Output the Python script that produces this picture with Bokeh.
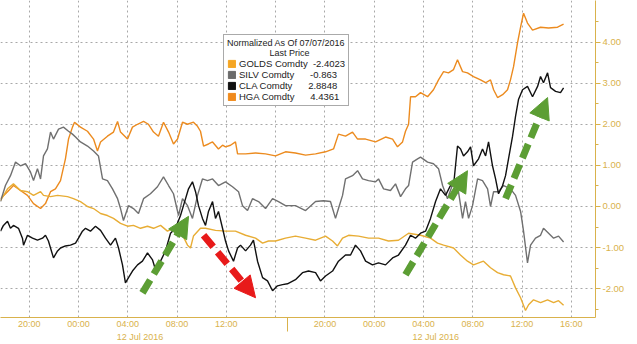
from bokeh.plotting import figure
from bokeh.models import (FixedTicker, LinearAxis, Label, Arrow, NormalHead, Legend,
                          LegendItem, NumeralTickFormatter, Range1d)
from bokeh.embed import file_html
from bokeh.resources import INLINE

# ---- data: hours since 00:00 of the first full day, normalized last price ----
HGA = [(-6.33,0.19),(-5.76,0.36),(-5.28,0.51),(-4.71,0.39),(-4.14,0.27),(-3.65,0.07),(-3.08,-0.05),
       (-2.68,0.07),(-2.27,0.36),(-1.87,0.43),(-1.46,0.63),(-1.06,1.16),(-0.81,1.64),(-0.49,1.93),
       (-0.32,2.05),(0.16,1.93),(0.73,1.83),(1.22,1.64),(1.54,1.35),(1.79,1.57),(2.35,1.71),(2.84,1.81),
       (3.17,2.07),(3.41,1.81),(3.98,1.64),(4.38,1.93),(4.79,2.0),(5.28,2.07),(5.68,2.0),(6.09,1.81),
       (6.49,1.71),(6.90,2.05),(7.31,1.81),(7.71,1.52),(8.04,1.64),(8.44,2.05),(8.85,2.0),(9.33,2.05),
       (9.66,1.95),(9.90,1.83),(10.15,1.47),(10.55,1.52),(10.88,1.57),(11.36,1.40),(11.69,1.49),
       (11.93,1.45),(12.34,1.49),(12.74,1.57),(12.91,1.28),(13.56,1.28),(14.37,1.30),(15.18,1.28),
       (15.99,1.23),(16.80,1.33),(17.61,1.30),(18.43,1.25),(19.24,1.28),(20.05,1.33),(20.70,1.40),
       (21.10,1.76),(21.67,1.71),(22.24,1.81),(22.65,1.64),(23.30,1.64),(24.11,1.57),(24.92,1.69),
       (25.49,1.64),(25.89,1.45),(26.30,1.57),(26.54,1.83),(26.79,2.0),(26.95,2.67),(27.35,2.67),
       (27.76,2.77),(28.33,2.67),(28.81,2.84),(29.22,3.08),(29.63,3.28),(30.03,3.25),(30.44,3.33),
       (30.76,3.57),(31.17,3.28),(31.57,3.25),(32.06,3.16),(32.63,3.08),(33.04,3.01),(33.44,3.08),
       (33.69,2.84),(34.01,2.65),(34.42,2.72),(34.82,2.84),(35.06,3.08),(35.31,3.40),(35.63,3.98),
       (35.88,4.36),(36.12,4.70),(36.44,4.46),(36.85,4.29),(37.50,4.36),(38.15,4.34),(38.88,4.36),
       (39.37,4.4361)]

GOLDS = [(-6.33,0.14),(-5.76,0.43),(-5.28,0.55),(-4.71,0.39),(-4.14,0.36),(-3.65,0.27),(-3.08,0.36),
         (-2.84,0.27),(-2.27,0.24),(-1.70,0.27),(-0.89,0.24),(-0.41,0.19),(0.16,0.12),(0.73,0.0),
         (1.22,-0.05),(1.79,-0.17),(2.35,-0.22),(2.84,-0.29),(3.41,-0.41),(3.98,-0.48),(4.46,-0.46),
         (5.03,-0.53),(5.60,-0.48),(6.09,-0.53),(6.66,-0.46),(7.22,-0.60),(7.71,-0.53),(8.28,-0.60),
         (8.85,-0.94),(9.09,-1.01),(9.33,-0.72),(9.90,-0.53),(10.31,-0.53),(11.12,-0.58),(11.93,-0.60),
         (12.74,-0.60),(13.56,-0.70),(14.37,-0.77),(14.94,-0.89),(15.42,-0.84),(15.99,-0.84),
         (16.80,-0.77),(17.61,-0.72),(18.43,-0.77),(19.24,-0.82),(20.05,-0.72),(20.62,-0.84),
         (21.02,-0.96),(21.43,-0.77),(21.92,-0.70),(22.73,-0.72),(23.54,-0.77),(24.35,-0.77),
         (25.16,-0.84),(25.97,-0.82),(26.79,-0.65),(27.76,-0.70),(28.57,-0.77),(29.14,-0.89),
         (29.63,-0.94),(30.44,-1.01),(31.0,-1.18),(31.57,-1.33),(32.06,-1.42),(32.87,-1.33),
         (33.44,-1.49),(34.01,-1.61),(34.50,-1.66),(35.06,-1.69),(35.47,-1.98),(35.88,-2.22),
         (36.28,-2.53),(36.53,-2.39),(36.93,-2.27),(37.50,-2.34),(38.07,-2.27),(38.56,-2.34),
         (38.96,-2.29),(39.37,-2.4023)]

SILV = [(-6.33,0.12),(-5.93,0.51),(-5.52,0.75),(-5.11,1.08),(-4.71,0.99),(-4.30,1.04),(-3.90,0.84),
        (-3.65,0.63),(-3.33,0.92),(-3.08,0.67),(-2.84,1.23),(-2.52,1.40),(-2.27,1.81),(-2.03,1.64),
        (-1.62,1.88),(-1.22,1.93),(-0.81,1.83),(-0.49,1.76),(-0.24,1.69),(0.16,1.57),(0.73,1.47),
        (1.22,1.35),(1.62,1.23),(1.95,0.67),(2.35,0.63),(2.76,0.43),(3.17,0.19),(3.41,-0.05),
        (3.65,-0.34),(4.06,0.02),(4.46,-0.05),(4.87,-0.17),(5.28,0.19),(5.84,0.31),(6.41,0.48),
        (6.90,0.72),(7.31,0.51),(7.71,0.31),(8.12,-0.22),(8.44,0.19),(8.85,0.02),(9.25,-0.29),
        (9.66,0.27),(10.06,0.67),(10.47,0.63),(10.88,0.67),(11.36,0.51),(11.93,0.60),(12.50,0.48),
        (12.99,0.36),(13.31,0.02),(13.72,-0.10),(14.12,0.19),(14.61,0.12),(15.18,-0.05),(15.75,0.19),
        (16.23,0.12),(16.80,0.02),(17.61,0.02),(18.43,-0.10),(19.24,0.12),(19.89,0.14),(20.45,0.12),
        (20.86,-0.29),(21.10,-0.05),(21.43,0.27),(21.67,0.67),(22.24,0.75),(22.65,0.87),(23.05,0.67),
        (23.54,0.63),(24.11,0.60),(24.35,0.67),(24.76,0.43),(25.32,0.39),(25.73,0.55),(26.14,0.24),
        (26.54,0.43),(26.79,0.51),(27.11,1.08),(27.52,1.16),(27.76,1.20),(28.33,1.08),(28.81,1.04),
        (29.22,0.92),(29.55,0.51),(29.95,0.19),(30.44,0.60),(30.84,0.36),(31.17,-0.29),(31.41,0.12),
        (31.66,-0.29),(31.98,0.02),(32.39,0.67),(32.79,0.63),(33.20,0.43),(33.44,0.0),(33.69,0.36),
        (34.09,0.36),(34.50,0.51),(35.06,0.43),(35.47,0.27),(35.88,-0.12),(36.12,-0.60),(36.44,-1.37),
        (36.69,-0.94),(37.09,-0.77),(37.50,-0.70),(37.74,-0.53),(38.15,-0.65),(38.56,-0.77),
        (38.96,-0.72),(39.37,-0.863)]

CLA = [(-6.33,-0.60),(-6.09,-0.46),(-5.76,-0.36),(-5.52,-0.53),(-5.28,-0.46),(-4.87,-0.53),
       (-4.55,-0.77),(-4.46,-0.94),(-4.14,-0.70),(-3.73,-0.77),(-3.33,-0.82),(-2.92,-0.77),
       (-2.68,-0.70),(-2.44,-0.84),(-2.03,-1.25),(-1.70,-1.08),(-1.46,-1.01),(-1.06,-0.96),
       (-0.65,-0.94),(-0.24,-0.89),(0.0,-0.77),(0.32,-0.60),(0.57,-0.53),(0.97,-0.60),(1.38,-0.48),
       (1.79,-0.58),(2.19,-0.77),(2.60,-0.94),(3.00,-0.77),(3.25,-1.01),(3.57,-1.42),(3.81,-1.86),
       (4.06,-1.73),(4.38,-1.57),(4.79,-1.42),(5.19,-1.33),(5.60,-1.13),(6.01,-1.30),(6.25,-1.54),
       (6.66,-1.33),(7.06,-1.08),(7.47,-0.65),(7.87,-0.53),(8.28,-0.22),(8.52,0.02),(8.93,0.43),
       (9.25,0.60),(9.50,0.36),(9.74,0.02),(10.06,-0.29),(10.31,-0.46),(10.55,-0.12),(10.88,0.12),
       (11.12,-0.29),(11.36,-0.12),(11.69,-0.53),(11.93,-0.84),(12.18,-1.08),(12.58,-1.33),
       (12.91,-1.01),(13.15,-0.94),(13.56,-1.08),(13.96,-0.94),(14.20,-0.82),(14.53,-1.33),
       (14.94,-1.73),(15.34,-1.81),(15.75,-2.05),(16.15,-1.93),(16.56,-1.90),(16.96,-1.88),
       (17.61,-1.78),(18.18,-1.61),(18.67,-1.57),(19.24,-1.61),(19.64,-1.81),(20.05,-1.69),
       (20.62,-1.57),(21.10,-1.33),(21.67,-1.18),(22.08,-1.18),(22.48,-0.94),(22.89,-1.08),
       (23.30,-1.33),(23.86,-1.42),(24.35,-1.37),(24.92,-1.42),(25.49,-1.25),(25.97,-1.18),
       (26.54,-0.94),(26.95,-0.70),(27.35,-0.77),(27.76,-0.65),(28.17,-0.60),(28.57,-0.29),
       (28.98,0.12),(29.38,0.43),(29.79,0.27),(30.19,0.51),(30.44,0.51),(30.76,1.47),(31.01,1.40),
       (31.25,1.23),(31.57,1.33),(31.82,1.45),(32.06,0.99),(32.47,1.16),(32.79,1.40),(33.04,1.23),
       (33.28,1.57),(33.60,0.99),(33.85,0.67),(34.09,0.31),(34.42,0.51),(34.66,0.75),(34.90,1.16),
       (35.23,1.71),(35.47,2.19),(35.71,2.60),(36.04,2.84),(36.44,2.92),(36.85,2.67),(37.26,2.92),
       (37.50,3.16),(37.74,3.01),(38.07,3.25),(38.31,2.89),(38.72,2.80),(39.12,2.77),(39.37,2.8848)]

SERIES_NAMES = ["GOLDS Comdty", "SILV Comdty", "CLA Comdty", "HGA Comdty"]
LAST_PRICES = ["-2.4023", "-0.863", "2.8848", "4.4361"]
NAME_GAPS = [2, 6, 6, 6]  # spaces between name and value in the legend
LINE_COLORS = ["#e8ad35", "#707070", "#111111", "#ec8b1f"]
SWATCH_COLORS = ["#f5a623", "#6b6b6b", "#111111", "#f08a1c"]
TAG_TEXT_COLORS = ["#2a1a00", "#ffffff", "#ffffff", "#2a1a00"]

TIME_TICKS = [-4, 0, 4, 8, 12, 16, 20, 24, 28, 32, 36, 40]
TIME_LABELS = ["20:00", "00:00", "04:00", "08:00", "12:00", "", "20:00", "00:00", "04:00",
               "08:00", "12:00", "16:00"]
DATE_TICKS = [5, 29]
DATE_LABELS = ["12 Jul 2016", "12 Jul 2016"]
DAY_BREAK = [17]
Y_TICKS = [-2, -1, 0, 1, 2, 3, 4]

# annotation arrows: (t_start, v_start, t_end, v_end)
GREEN_ARROWS = [(5.19, -2.10, 8.93, -0.24), (26.54, -1.66, 31.57, 0.87), (34.66, 0.19, 38.07, 2.65)]
RED_ARROWS = [(10.15, -0.70, 14.37, -2.22)]

X_START, X_END = -6.33, 41.96
Y_MIN, Y_MAX = -2.70, 5.01

GOLD = "#d9b24c"
AXIS_FONT = "Liberation Sans"
NBSP = "\u00a0"

p = figure(width=637, height=344, x_range=Range1d(X_START, X_END), y_range=Range1d(Y_MIN, Y_MAX),
           y_axis_location="right", output_backend="svg", toolbar_location=None,
           min_border_left=0, min_border_top=0, min_border_right=42, min_border_bottom=0)
p.outline_line_color = None

# grids
p.xgrid.ticker = FixedTicker(ticks=TIME_TICKS)
for g in (p.xgrid, p.ygrid):
    g.grid_line_color = "#a8a8a8"
    g.grid_line_dash = "2 3"
    g.grid_line_width = 1

# series lines
keys = [GOLDS, SILV, CLA, HGA]
order = [3, 0, 1, 2]  # draw HGA first, CLA on top
for i in order:
    s = keys[i]
    p.line([a for a, _ in s], [b for _, b in s], line_color=LINE_COLORS[i], line_width=1.4)

# x axis (times)
xa = p.xaxis[0]
xa.ticker = FixedTicker(ticks=TIME_TICKS, minor_ticks=[])
xa.major_label_overrides = {t: l for t, l in zip(TIME_TICKS, TIME_LABELS)}
xa.axis_line_color = GOLD
xa.major_tick_line_color = GOLD
xa.major_tick_in = 0
xa.major_tick_out = 0
xa.major_label_standoff = 1
xa.major_label_text_color = GOLD
xa.major_label_text_font = AXIS_FONT
xa.major_label_text_font_size = "9px"
xa.major_label_text_line_height = 0.9

# date axis; the day break is a minor tick reaching up to the time axis line
da = LinearAxis(ticker=FixedTicker(ticks=DATE_TICKS, minor_ticks=DAY_BREAK))
da.major_label_overrides = {t: l for t, l in zip(DATE_TICKS, DATE_LABELS)}
da.axis_line_color = None
da.major_tick_line_color = None
da.major_tick_in = 0
da.major_tick_out = 0
da.minor_tick_line_color = GOLD
da.minor_tick_in = 14
da.minor_tick_out = 0
da.major_label_standoff = 0
da.major_label_text_color = GOLD
da.major_label_text_font = AXIS_FONT
da.major_label_text_font_size = "9px"
da.major_label_text_line_height = 0.9
p.add_layout(da, "below")

# y axis (right)
ya = p.yaxis[0]
ya.ticker = FixedTicker(ticks=Y_TICKS, minor_ticks=[t + 0.5 for t in Y_TICKS] + [Y_TICKS[0] - 0.5])
ya.formatter = NumeralTickFormatter(format="0.00")
ya.axis_line_color = GOLD
ya.major_tick_line_color = GOLD
ya.minor_tick_line_color = GOLD
ya.major_tick_in = 0
ya.major_tick_out = 5
ya.minor_tick_in = 0
ya.minor_tick_out = 3
ya.major_label_standoff = 2
ya.major_label_text_color = GOLD
ya.major_label_text_font = AXIS_FONT
ya.major_label_text_font_size = "9.5px"

# arrows
for (x0, y0, x1, y1) in GREEN_ARROWS:
    p.add_layout(Arrow(x_start=x0, y_start=y0, x_end=x1, y_end=y1,
                       line_color="#5c9e34", line_width=7, line_dash="15 7",
                       end=NormalHead(size=21, fill_color="#5c9e34", line_color="#5c9e34", line_width=1)))
for (x0, y0, x1, y1) in RED_ARROWS:
    p.add_layout(Arrow(x_start=x0, y_start=y0, x_end=x1, y_end=y1,
                       line_color="#e81a1a", line_width=7, line_dash="15 7",
                       end=NormalHead(size=21, fill_color="#e81a1a", line_color="#e81a1a", line_width=1)))

# legend with square swatches
items = []
nan = float("nan")
for i, name in enumerate(SERIES_NAMES):
    r = p.quad(left=[nan], right=[nan], top=[nan], bottom=[nan],
               fill_color=SWATCH_COLORS[i], line_color=SWATCH_COLORS[i])
    items.append(LegendItem(label=name + " " * NAME_GAPS[i] + LAST_PRICES[i], renderers=[r]))
legend = Legend(items=items, title="Normalized As Of 07/07/2016\n" + NBSP * 17 + "Last Price",
                location=(223, 211))
legend.title_text_font = "Liberation Sans"
legend.title_text_font_size = "9px"
legend.title_text_font_style = "normal"
legend.title_text_color = "#222222"
legend.title_standoff = 0
legend.label_text_font = "Liberation Sans"
legend.label_text_font_size = "9.5px"
legend.label_text_color = "#222222"
legend.label_height = 9
legend.glyph_height = 9
legend.glyph_width = 9
legend.label_standoff = 3
legend.spacing = 0
legend.padding = 3
legend.margin = 0
legend.border_line_color = "#555555"
legend.border_line_width = 1
legend.background_fill_alpha = 1
p.add_layout(legend)

# last-price tags on the right axis
for i in range(4):
    last = keys[i][-1][1]
    p.add_layout(Label(x=X_END, y=last, x_offset=1, text="\u25c0", text_color=SWATCH_COLORS[i],
                       text_font_size="10px", text_baseline="middle", text_align="left"))
    p.add_layout(Label(x=X_END, y=last, x_offset=8, text=LAST_PRICES[i], text_color=TAG_TEXT_COLORS[i],
                       text_font=AXIS_FONT, text_font_size="9.5px", text_baseline="middle",
                       text_align="left", background_fill_color=SWATCH_COLORS[i], padding=2))

open("out.html", "w").write(file_html(p, INLINE))
